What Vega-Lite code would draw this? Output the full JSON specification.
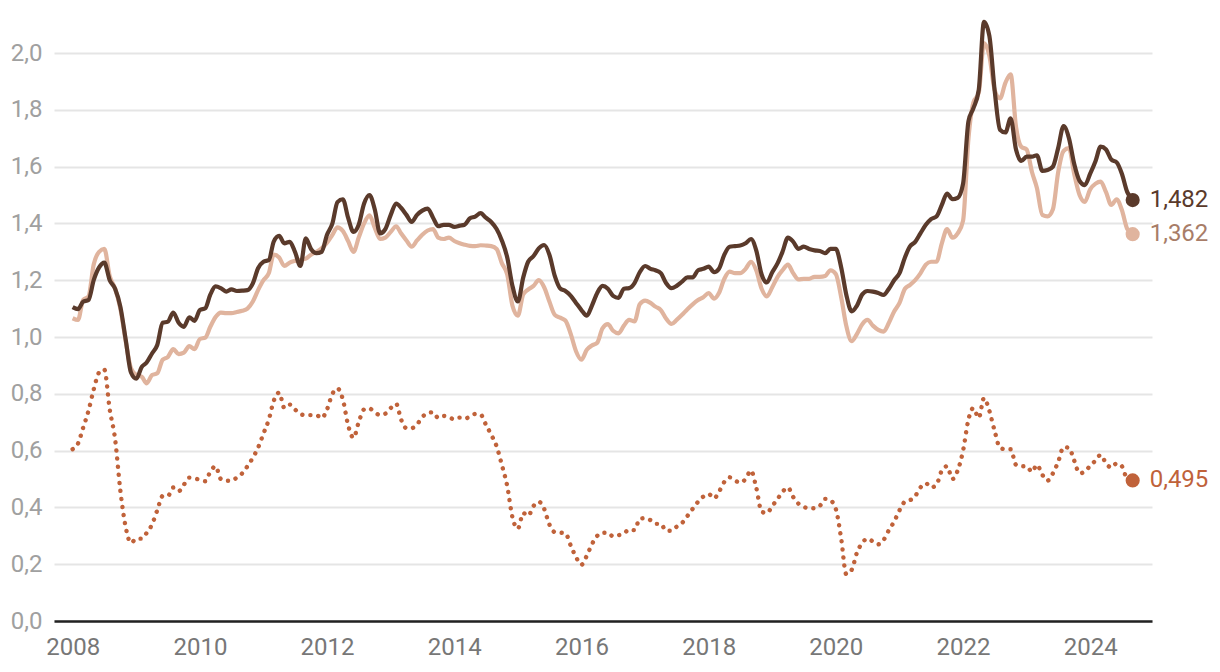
{
  "$schema": "https://vega.github.io/schema/vega-lite/v6.json",
  "width": 1098,
  "height": 568,
  "autosize": {"type": "none"},
  "padding": {"left": 54, "top": 53, "right": 68, "bottom": 51},
  "background": "white",
  "config": {
    "locale": {"number": {"decimal": ",", "thousands": ".", "grouping": [3], "currency": ["", " €"]}},
    "view": {"stroke": null},
    "font": "Roboto"
  },
  "data": {
    "format": {"parse": {"d": "utc:'%Y-%m'"}},
    "values": [
      {"d":"2008-01","a":1.105,"b":1.066,"c":0.605},
      {"d":"2008-02","a":1.098,"b":1.06,"c":0.625},
      {"d":"2008-03","a":1.124,"b":1.13,"c":0.68},
      {"d":"2008-04","a":1.13,"b":1.142,"c":0.74},
      {"d":"2008-05","a":1.2,"b":1.255,"c":0.815},
      {"d":"2008-06","a":1.245,"b":1.3,"c":0.875},
      {"d":"2008-07","a":1.262,"b":1.31,"c":0.885},
      {"d":"2008-08","a":1.2,"b":1.215,"c":0.745},
      {"d":"2008-09","a":1.17,"b":1.17,"c":0.64},
      {"d":"2008-10","a":1.107,"b":1.1,"c":0.46},
      {"d":"2008-11","a":0.99,"b":0.985,"c":0.33},
      {"d":"2008-12","a":0.875,"b":0.89,"c":0.275},
      {"d":"2009-01","a":0.853,"b":0.866,"c":0.29},
      {"d":"2009-02","a":0.895,"b":0.86,"c":0.29},
      {"d":"2009-03","a":0.91,"b":0.837,"c":0.31},
      {"d":"2009-04","a":0.942,"b":0.866,"c":0.34},
      {"d":"2009-05","a":0.972,"b":0.872,"c":0.39},
      {"d":"2009-06","a":1.05,"b":0.92,"c":0.44},
      {"d":"2009-07","a":1.054,"b":0.93,"c":0.44},
      {"d":"2009-08","a":1.086,"b":0.957,"c":0.47},
      {"d":"2009-09","a":1.05,"b":0.94,"c":0.457},
      {"d":"2009-10","a":1.036,"b":0.945,"c":0.48},
      {"d":"2009-11","a":1.069,"b":0.968,"c":0.505},
      {"d":"2009-12","a":1.057,"b":0.957,"c":0.502},
      {"d":"2010-01","a":1.095,"b":0.993,"c":0.497},
      {"d":"2010-02","a":1.101,"b":0.998,"c":0.492},
      {"d":"2010-03","a":1.148,"b":1.035,"c":0.525},
      {"d":"2010-04","a":1.178,"b":1.07,"c":0.545},
      {"d":"2010-05","a":1.172,"b":1.086,"c":0.5},
      {"d":"2010-06","a":1.16,"b":1.084,"c":0.494},
      {"d":"2010-07","a":1.168,"b":1.084,"c":0.494},
      {"d":"2010-08","a":1.162,"b":1.088,"c":0.505},
      {"d":"2010-09","a":1.163,"b":1.092,"c":0.52},
      {"d":"2010-10","a":1.165,"b":1.1,"c":0.545},
      {"d":"2010-11","a":1.189,"b":1.125,"c":0.575},
      {"d":"2010-12","a":1.242,"b":1.165,"c":0.61},
      {"d":"2011-01","a":1.265,"b":1.2,"c":0.66},
      {"d":"2011-02","a":1.271,"b":1.225,"c":0.71},
      {"d":"2011-03","a":1.336,"b":1.29,"c":0.775},
      {"d":"2011-04","a":1.356,"b":1.28,"c":0.804},
      {"d":"2011-05","a":1.33,"b":1.25,"c":0.75},
      {"d":"2011-06","a":1.335,"b":1.262,"c":0.762},
      {"d":"2011-07","a":1.3,"b":1.268,"c":0.745},
      {"d":"2011-08","a":1.25,"b":1.272,"c":0.728},
      {"d":"2011-09","a":1.347,"b":1.276,"c":0.725},
      {"d":"2011-10","a":1.31,"b":1.29,"c":0.725},
      {"d":"2011-11","a":1.295,"b":1.3,"c":0.725},
      {"d":"2011-12","a":1.3,"b":1.312,"c":0.714},
      {"d":"2012-01","a":1.36,"b":1.332,"c":0.745},
      {"d":"2012-02","a":1.4,"b":1.36,"c":0.8},
      {"d":"2012-03","a":1.475,"b":1.386,"c":0.819},
      {"d":"2012-04","a":1.485,"b":1.373,"c":0.78},
      {"d":"2012-05","a":1.42,"b":1.338,"c":0.69},
      {"d":"2012-06","a":1.37,"b":1.3,"c":0.645},
      {"d":"2012-07","a":1.395,"b":1.35,"c":0.7},
      {"d":"2012-08","a":1.47,"b":1.4,"c":0.745},
      {"d":"2012-09","a":1.5,"b":1.428,"c":0.748},
      {"d":"2012-10","a":1.45,"b":1.385,"c":0.735},
      {"d":"2012-11","a":1.365,"b":1.345,"c":0.725},
      {"d":"2012-12","a":1.38,"b":1.35,"c":0.73},
      {"d":"2013-01","a":1.43,"b":1.37,"c":0.75},
      {"d":"2013-02","a":1.47,"b":1.39,"c":0.765},
      {"d":"2013-03","a":1.455,"b":1.365,"c":0.71},
      {"d":"2013-04","a":1.43,"b":1.34,"c":0.679},
      {"d":"2013-05","a":1.405,"b":1.318,"c":0.679},
      {"d":"2013-06","a":1.43,"b":1.34,"c":0.692},
      {"d":"2013-07","a":1.445,"b":1.36,"c":0.718},
      {"d":"2013-08","a":1.452,"b":1.375,"c":0.732},
      {"d":"2013-09","a":1.42,"b":1.38,"c":0.735},
      {"d":"2013-10","a":1.39,"b":1.35,"c":0.715},
      {"d":"2013-11","a":1.395,"b":1.345,"c":0.722},
      {"d":"2013-12","a":1.395,"b":1.35,"c":0.718},
      {"d":"2014-01","a":1.388,"b":1.338,"c":0.71},
      {"d":"2014-02","a":1.392,"b":1.33,"c":0.716},
      {"d":"2014-03","a":1.395,"b":1.325,"c":0.712},
      {"d":"2014-04","a":1.418,"b":1.321,"c":0.72},
      {"d":"2014-05","a":1.424,"b":1.32,"c":0.729},
      {"d":"2014-06","a":1.436,"b":1.323,"c":0.727},
      {"d":"2014-07","a":1.42,"b":1.322,"c":0.692},
      {"d":"2014-08","a":1.405,"b":1.32,"c":0.656},
      {"d":"2014-09","a":1.38,"b":1.31,"c":0.615},
      {"d":"2014-10","a":1.34,"b":1.26,"c":0.55},
      {"d":"2014-11","a":1.28,"b":1.22,"c":0.475},
      {"d":"2014-12","a":1.18,"b":1.11,"c":0.365},
      {"d":"2015-01","a":1.125,"b":1.075,"c":0.325},
      {"d":"2015-02","a":1.21,"b":1.15,"c":0.38},
      {"d":"2015-03","a":1.265,"b":1.167,"c":0.37},
      {"d":"2015-04","a":1.285,"b":1.18,"c":0.405},
      {"d":"2015-05","a":1.312,"b":1.2,"c":0.42},
      {"d":"2015-06","a":1.324,"b":1.175,"c":0.395},
      {"d":"2015-07","a":1.29,"b":1.125,"c":0.34},
      {"d":"2015-08","a":1.215,"b":1.078,"c":0.313},
      {"d":"2015-09","a":1.171,"b":1.068,"c":0.311},
      {"d":"2015-10","a":1.162,"b":1.058,"c":0.309},
      {"d":"2015-11","a":1.145,"b":1.01,"c":0.265},
      {"d":"2015-12","a":1.12,"b":0.95,"c":0.225},
      {"d":"2016-01","a":1.095,"b":0.92,"c":0.198},
      {"d":"2016-02","a":1.075,"b":0.955,"c":0.23},
      {"d":"2016-03","a":1.11,"b":0.97,"c":0.27},
      {"d":"2016-04","a":1.155,"b":0.98,"c":0.3},
      {"d":"2016-05","a":1.18,"b":1.03,"c":0.311},
      {"d":"2016-06","a":1.17,"b":1.045,"c":0.311},
      {"d":"2016-07","a":1.145,"b":1.022,"c":0.298},
      {"d":"2016-08","a":1.138,"b":1.013,"c":0.302},
      {"d":"2016-09","a":1.17,"b":1.04,"c":0.308},
      {"d":"2016-10","a":1.172,"b":1.06,"c":0.322},
      {"d":"2016-11","a":1.19,"b":1.055,"c":0.32},
      {"d":"2016-12","a":1.228,"b":1.115,"c":0.36},
      {"d":"2017-01","a":1.25,"b":1.128,"c":0.362},
      {"d":"2017-02","a":1.24,"b":1.12,"c":0.355},
      {"d":"2017-03","a":1.235,"b":1.107,"c":0.342},
      {"d":"2017-04","a":1.225,"b":1.095,"c":0.342},
      {"d":"2017-05","a":1.19,"b":1.065,"c":0.318},
      {"d":"2017-06","a":1.172,"b":1.046,"c":0.318},
      {"d":"2017-07","a":1.18,"b":1.06,"c":0.332},
      {"d":"2017-08","a":1.195,"b":1.078,"c":0.345},
      {"d":"2017-09","a":1.21,"b":1.098,"c":0.37},
      {"d":"2017-10","a":1.21,"b":1.115,"c":0.395},
      {"d":"2017-11","a":1.235,"b":1.13,"c":0.42},
      {"d":"2017-12","a":1.24,"b":1.14,"c":0.438},
      {"d":"2018-01","a":1.248,"b":1.155,"c":0.447},
      {"d":"2018-02","a":1.228,"b":1.135,"c":0.432},
      {"d":"2018-03","a":1.24,"b":1.155,"c":0.455},
      {"d":"2018-04","a":1.29,"b":1.205,"c":0.49},
      {"d":"2018-05","a":1.318,"b":1.23,"c":0.506},
      {"d":"2018-06","a":1.32,"b":1.225,"c":0.495},
      {"d":"2018-07","a":1.322,"b":1.225,"c":0.487},
      {"d":"2018-08","a":1.33,"b":1.24,"c":0.5},
      {"d":"2018-09","a":1.345,"b":1.265,"c":0.53},
      {"d":"2018-10","a":1.305,"b":1.235,"c":0.47},
      {"d":"2018-11","a":1.22,"b":1.17,"c":0.385},
      {"d":"2018-12","a":1.192,"b":1.143,"c":0.38},
      {"d":"2019-01","a":1.228,"b":1.175,"c":0.405},
      {"d":"2019-02","a":1.26,"b":1.212,"c":0.43},
      {"d":"2019-03","a":1.3,"b":1.235,"c":0.455},
      {"d":"2019-04","a":1.35,"b":1.255,"c":0.47},
      {"d":"2019-05","a":1.336,"b":1.225,"c":0.437},
      {"d":"2019-06","a":1.31,"b":1.203,"c":0.413},
      {"d":"2019-07","a":1.318,"b":1.205,"c":0.402},
      {"d":"2019-08","a":1.31,"b":1.205,"c":0.397},
      {"d":"2019-09","a":1.305,"b":1.212,"c":0.397},
      {"d":"2019-10","a":1.303,"b":1.212,"c":0.405},
      {"d":"2019-11","a":1.295,"b":1.215,"c":0.43},
      {"d":"2019-12","a":1.31,"b":1.235,"c":0.425},
      {"d":"2020-01","a":1.31,"b":1.222,"c":0.395},
      {"d":"2020-02","a":1.245,"b":1.14,"c":0.29},
      {"d":"2020-03","a":1.15,"b":1.04,"c":0.165},
      {"d":"2020-04","a":1.09,"b":0.985,"c":0.18},
      {"d":"2020-05","a":1.11,"b":1.01,"c":0.24},
      {"d":"2020-06","a":1.15,"b":1.045,"c":0.275},
      {"d":"2020-07","a":1.162,"b":1.06,"c":0.29},
      {"d":"2020-08","a":1.16,"b":1.04,"c":0.28},
      {"d":"2020-09","a":1.155,"b":1.025,"c":0.27},
      {"d":"2020-10","a":1.148,"b":1.019,"c":0.285},
      {"d":"2020-11","a":1.17,"b":1.05,"c":0.32},
      {"d":"2020-12","a":1.2,"b":1.09,"c":0.35},
      {"d":"2021-01","a":1.225,"b":1.12,"c":0.39},
      {"d":"2021-02","a":1.28,"b":1.17,"c":0.42},
      {"d":"2021-03","a":1.318,"b":1.183,"c":0.425},
      {"d":"2021-04","a":1.335,"b":1.2,"c":0.44},
      {"d":"2021-05","a":1.365,"b":1.224,"c":0.47},
      {"d":"2021-06","a":1.395,"b":1.255,"c":0.485},
      {"d":"2021-07","a":1.415,"b":1.265,"c":0.47},
      {"d":"2021-08","a":1.424,"b":1.265,"c":0.48},
      {"d":"2021-09","a":1.465,"b":1.33,"c":0.53},
      {"d":"2021-10","a":1.505,"b":1.38,"c":0.545},
      {"d":"2021-11","a":1.485,"b":1.35,"c":0.5},
      {"d":"2021-12","a":1.49,"b":1.365,"c":0.53},
      {"d":"2022-01","a":1.54,"b":1.41,"c":0.6},
      {"d":"2022-02","a":1.76,"b":1.7,"c":0.71},
      {"d":"2022-03","a":1.805,"b":1.825,"c":0.75},
      {"d":"2022-04","a":1.87,"b":1.86,"c":0.715},
      {"d":"2022-05","a":2.11,"b":2.035,"c":0.785},
      {"d":"2022-06","a":2.06,"b":1.99,"c":0.74},
      {"d":"2022-07","a":1.87,"b":1.87,"c":0.67},
      {"d":"2022-08","a":1.73,"b":1.84,"c":0.61},
      {"d":"2022-09","a":1.72,"b":1.895,"c":0.605},
      {"d":"2022-10","a":1.77,"b":1.925,"c":0.605},
      {"d":"2022-11","a":1.66,"b":1.74,"c":0.55},
      {"d":"2022-12","a":1.62,"b":1.67,"c":0.545},
      {"d":"2023-01","a":1.635,"b":1.66,"c":0.545},
      {"d":"2023-02","a":1.635,"b":1.58,"c":0.525},
      {"d":"2023-03","a":1.64,"b":1.525,"c":0.55},
      {"d":"2023-04","a":1.585,"b":1.43,"c":0.515},
      {"d":"2023-05","a":1.588,"b":1.425,"c":0.494},
      {"d":"2023-06","a":1.6,"b":1.45,"c":0.52},
      {"d":"2023-07","a":1.665,"b":1.58,"c":0.56},
      {"d":"2023-08","a":1.743,"b":1.655,"c":0.612},
      {"d":"2023-09","a":1.7,"b":1.665,"c":0.61},
      {"d":"2023-10","a":1.61,"b":1.575,"c":0.565},
      {"d":"2023-11","a":1.55,"b":1.5,"c":0.52},
      {"d":"2023-12","a":1.535,"b":1.476,"c":0.526},
      {"d":"2024-01","a":1.575,"b":1.52,"c":0.547},
      {"d":"2024-02","a":1.62,"b":1.54,"c":0.565},
      {"d":"2024-03","a":1.67,"b":1.547,"c":0.585},
      {"d":"2024-04","a":1.66,"b":1.51,"c":0.555},
      {"d":"2024-05","a":1.625,"b":1.465,"c":0.54},
      {"d":"2024-06","a":1.615,"b":1.485,"c":0.555},
      {"d":"2024-07","a":1.575,"b":1.447,"c":0.545},
      {"d":"2024-08","a":1.51,"b":1.38,"c":0.5},
      {"d":"2024-09","a":1.482,"b":1.362,"c":0.495}
    ]
  },
  "encoding": {
    "x": {
      "field": "d",
      "type": "temporal",
      "scale": {
        "type": "utc",
        "domain": [
          {"year": 2007, "month": 9, "date": 16, "utc": true},
          {"year": 2024, "month": 12, "date": 21, "utc": true}
        ]
      },
      "axis": {
        "title": null,
        "values": [
          {"year": 2008, "utc": true}, {"year": 2010, "utc": true}, {"year": 2012, "utc": true},
          {"year": 2014, "utc": true}, {"year": 2016, "utc": true}, {"year": 2018, "utc": true},
          {"year": 2020, "utc": true}, {"year": 2022, "utc": true}, {"year": 2024, "utc": true}
        ],
        "format": "%Y",
        "grid": false,
        "ticks": false,
        "tickSize": 0,
        "domain": true,
        "domainColor": "#222222",
        "domainWidth": 2.5,
        "labelFont": "Roboto",
        "labelFontSize": 24,
        "labelColor": "#777777",
        "labelPadding": 14
      }
    }
  },
  "resolve": {"axis": {"y": "independent"}},
  "layer": [
    {
      "mark": {"type": "line", "interpolate": "monotone", "color": "#c0623a", "strokeWidth": 4.4, "strokeDash": [0.1, 8], "strokeCap": "round"},
      "encoding": {
        "y": {
          "field": "c",
          "type": "quantitative",
          "scale": {"domain": [0, 2], "nice": false, "zero": true},
          "axis": {
            "title": null,
            "values": [0, 0.2, 0.4, 0.6, 0.8, 1.0, 1.2, 1.4, 1.6, 1.8, 2.0],
            "format": ".1f",
            "grid": true,
            "gridColor": "#e5e5e5",
            "gridWidth": 1.8,
            "domain": false,
            "ticks": false,
            "tickSize": 0,
            "labelFont": "Roboto",
            "labelFontSize": 24,
            "labelColor": "#a0a0a0",
            "labelPadding": 12
          }
        }
      }
    },
    {
      "mark": {"type": "line", "interpolate": "monotone", "color": "#e0b49e", "strokeWidth": 4.2},
      "encoding": {"y": {"field": "b", "type": "quantitative", "axis": null}}
    },
    {
      "mark": {"type": "line", "interpolate": "monotone", "color": "#5a3a2b", "strokeWidth": 4.2},
      "encoding": {"y": {"field": "a", "type": "quantitative", "axis": null}}
    },
    {
      "transform": [{"filter": "utcyear(datum.d) == 2024 && utcmonth(datum.d) == 8"}],
      "mark": {"type": "circle", "size": 200, "opacity": 1, "color": "#c0623a"},
      "encoding": {"y": {"field": "c", "type": "quantitative", "axis": null}}
    },
    {
      "transform": [{"filter": "utcyear(datum.d) == 2024 && utcmonth(datum.d) == 8"}],
      "mark": {"type": "circle", "size": 200, "opacity": 1, "color": "#e0b49e"},
      "encoding": {"y": {"field": "b", "type": "quantitative", "axis": null}}
    },
    {
      "transform": [{"filter": "utcyear(datum.d) == 2024 && utcmonth(datum.d) == 8"}],
      "mark": {"type": "circle", "size": 200, "opacity": 1, "color": "#5a3a2b"},
      "encoding": {"y": {"field": "a", "type": "quantitative", "axis": null}}
    },
    {
      "transform": [{"filter": "utcyear(datum.d) == 2024 && utcmonth(datum.d) == 8"}],
      "mark": {"type": "text", "align": "left", "baseline": "middle", "dx": 17, "font": "Roboto", "fontSize": 24, "color": "#c0623a"},
      "encoding": {
        "y": {"field": "c", "type": "quantitative", "axis": null},
        "text": {"field": "c", "type": "quantitative", "format": ".3f"}
      }
    },
    {
      "transform": [{"filter": "utcyear(datum.d) == 2024 && utcmonth(datum.d) == 8"}],
      "mark": {"type": "text", "align": "left", "baseline": "middle", "dx": 17, "font": "Roboto", "fontSize": 24, "color": "#a87d68"},
      "encoding": {
        "y": {"field": "b", "type": "quantitative", "axis": null},
        "text": {"field": "b", "type": "quantitative", "format": ".3f"}
      }
    },
    {
      "transform": [{"filter": "utcyear(datum.d) == 2024 && utcmonth(datum.d) == 8"}],
      "mark": {"type": "text", "align": "left", "baseline": "middle", "dx": 17, "font": "Roboto", "fontSize": 24, "color": "#5a3a2b"},
      "encoding": {
        "y": {"field": "a", "type": "quantitative", "axis": null},
        "text": {"field": "a", "type": "quantitative", "format": ".3f"}
      }
    }
  ]
}
